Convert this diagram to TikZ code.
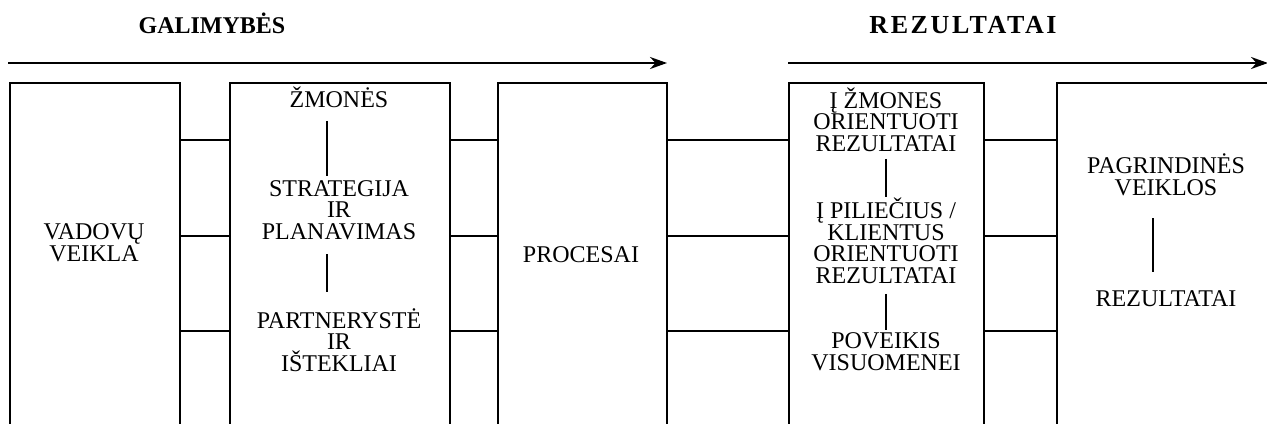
\documentclass[tikz,border=0pt]{standalone}
\usepackage{fontspec}
\setmainfont{Liberation Serif}
\usetikzlibrary{arrows.meta,calc}
\lineskiplimit=-20pt
\lineskip=0pt

\begin{document}
\begin{tikzpicture}[line width=0.75pt, >=Stealth, x=0.5pt, y=-0.5pt,
  box/.style={draw, rectangle, inner sep=0pt, minimum height=190pt, anchor=north west},
  lbl/.style={align=center, inner sep=0pt, anchor=base, font=\fontsize{12}{10.75}\selectfont},
  head/.style={inner sep=0pt, anchor=base, font=\fontsize{12}{14}\selectfont\bfseries},
  flow/.style={line width=1.1pt, -{Stealth[length=8.5pt, width=6pt]}}]
  \useasboundingbox (0,0) rectangle (1267,423);
  \clip (0,0) rectangle (1267,423);

  % headings and arrows
  \node[head] (galimybes) at (212,33) {GALIMYBĖS};
  \node[head, font=\fontsize{13}{14}\selectfont\bfseries] (rezultatai) at (963,33)
    {\addfontfeature{LetterSpace=10}REZULTATAI};
  \coordinate (galstart) at (8,63);
  \coordinate (galend) at (667,63);
  \coordinate (rezstart) at (788,63);
  \coordinate (rezend) at (1268,63);
  \draw[flow] (galstart) -- (galend);
  \draw[flow] (rezstart) -- (rezend);

  % boxes
  \node[box, minimum width=85pt] (vadovubox) at (9,82) {};
  \node[box, minimum width=110pt] (zmbox) at (229,82) {};
  \node[box, minimum width=84.5pt] (procbox) at (497,82) {};
  \node[box, minimum width=97.5pt] (rezbox) at (788,82) {};
  \node[box, minimum width=130pt] (pagrbox) at (1056,82) {};

  % rows of connectors
  \coordinate (row1) at (0,140);
  \coordinate (row2) at (0,236);
  \coordinate (row3) at (0,331);
  \foreach \row in {row1,row2,row3} {
    \draw (vadovubox.east |- \row) -- (zmbox.west |- \row);
    \draw (zmbox.east |- \row) -- (procbox.west |- \row);
    \draw (procbox.east |- \row) -- (rezbox.west |- \row);
    \draw (rezbox.east |- \row) -- (pagrbox.west |- \row);
  }

  % texts (base = last line)
  \node[lbl] (vadovu) at (94,261) {VADOVŲ\\VEIKLA};
  \node[lbl] (zmones) at (339,107) {ŽMONĖS};
  \node[lbl] (strategija) at (339,239) {STRATEGIJA\\IR\\PLANAVIMAS};
  \node[lbl] (partnerys) at (339,371) {PARTNERYSTĖ\\IR\\IŠTEKLIAI};
  \node[lbl] (procesai) at (581,262) {PROCESAI};
  \node[lbl] (izmones) at (886,151) {Į ŽMONES\\ORIENTUOTI\\REZULTATAI};
  \node[lbl] (ipiliecius) at (886,283) {Į PILIEČIUS /\\KLIENTUS\\ORIENTUOTI\\REZULTATAI};
  \node[lbl] (poveikis) at (886,370) {POVEIKIS\\VISUOMENEI};
  \node[lbl] (pagrindines) at (1166,195) {PAGRINDINĖS\\VEIKLOS};
  \node[lbl] (rezult) at (1166,306) {REZULTATAI};

  % links inside the boxes
  \draw ($(zmones.south)+(-12,13)$) -- ($(strategija.north)+(-12,-3)$);
  \draw ($(strategija.south)+(-12,14)$) -- ($(partnerys.north)+(-12,-15)$);
  \draw ($(izmones.south)+(0,7)$) -- ($(ipiliecius.north)+(0,0)$);
  \draw ($(ipiliecius.south)+(0,10)$) -- ($(poveikis.north)+(0,-2)$);
  \draw ($(pagrindines.south)+(-13,22)$) -- ($(rezult.north)+(-13,-17)$);
\end{tikzpicture}
\end{document}
